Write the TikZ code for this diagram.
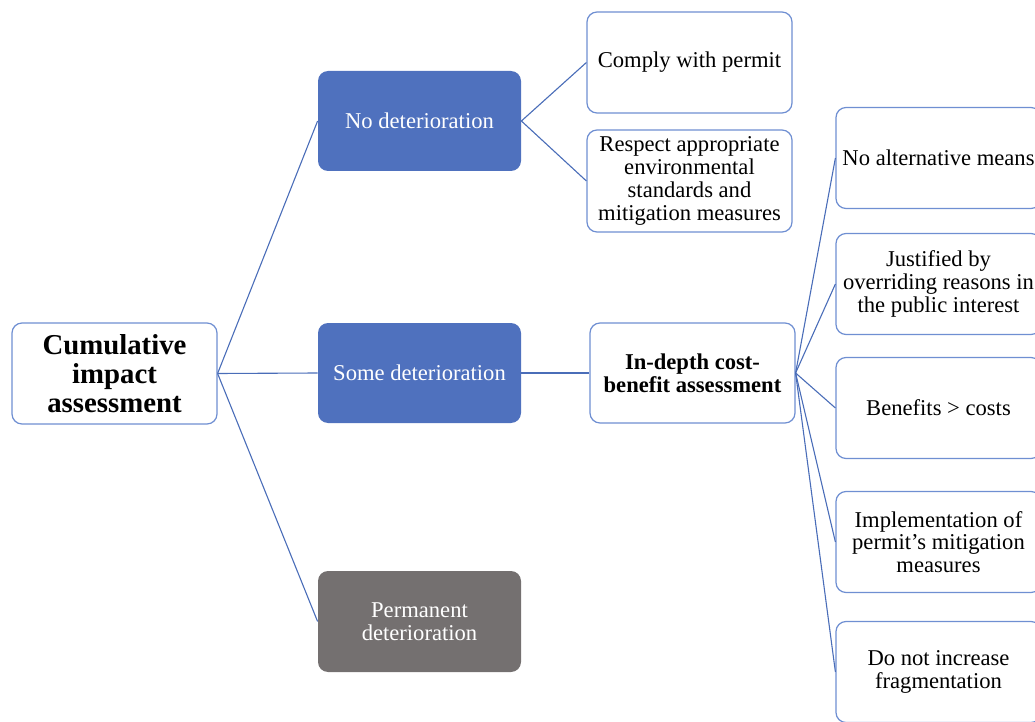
\documentclass[tikz,border=0pt]{standalone}
\usepackage{fontspec}
\setmainfont{Liberation Serif}
\usepackage{tikz}
\definecolor{boxblue}{HTML}{4F71BE}
\definecolor{edgeblue}{HTML}{6F8FD2}
\definecolor{lineblue}{HTML}{4A6DB8}
\definecolor{boxgrey}{HTML}{747070}
\tikzset{
    basenode/.style={align=center,inner sep=2pt,rounded corners=5pt,minimum width=102.5pt,minimum height=50.5pt,font=\fontsize{11.3}{11.4}\selectfont},
    whitenode/.style={basenode,draw=edgeblue,fill=white,text=black,line width=0.6pt},
    bluenode/.style={basenode,fill=boxblue,text=white},
    greynode/.style={basenode,fill=boxgrey,text=white},
    rootnode/.style={whitenode,font=\fontsize{14.4}{14.4}\selectfont\bfseries},
    boldnode/.style={whitenode,font=\fontsize{11.3}{11.4}\selectfont\bfseries}
}

\begin{document}
\begin{tikzpicture}[x=0.5pt,y=-0.5pt,every edge/.style={draw=lineblue,line width=0.55pt}]
\useasboundingbox (0,0) rectangle (1035,722);

% first level
\node[rootnode] (cum) at (114.5,373.5) {Cumulative\\impact\\assessment};
\node[bluenode,minimum width=101.5pt,minimum height=50pt] (nodet) at (419.5,121) {No deterioration};
\node[bluenode,minimum width=101.5pt,minimum height=50pt] (somedet) at (419.5,373) {Some deterioration};
\node[greynode,minimum width=101.5pt] (permdet) at (419.5,621.5) {Permanent\\deterioration};

% second level
\node[whitenode] (comply) at (689.5,62.5) {Comply with permit};
\node[whitenode,minimum height=51pt] (respect) at (689.5,181) {Respect appropriate\\environmental\\standards and\\mitigation measures};
\node[boldnode,minimum height=50pt] (indepth) at (692.5,373) {In-depth cost-\\benefit assessment};

% third level
\node[whitenode] (noalt) at (938.5,158) {No alternative means};
\node[whitenode] (justif) at (938.5,284) {Justified by\\overriding reasons in\\the public interest};
\node[whitenode] (benef) at (938.5,408) {Benefits > costs};
\node[whitenode] (implem) at (938.5,542) {Implementation of\\permit’s mitigation\\measures};
\node[whitenode] (frag) at (938.5,672) {Do not increase\\fragmentation};

\path
(cum.east)     edge (nodet.west)
               edge (somedet.west)
               edge (permdet.west)
(nodet.east)   edge (comply.west)
               edge (respect.west)
(somedet.east) edge (indepth.west)
(indepth.east) edge (noalt.west)
               edge (justif.west)
               edge (benef.west)
               edge (implem.west)
               edge (frag.west);

\end{tikzpicture}
\end{document}
